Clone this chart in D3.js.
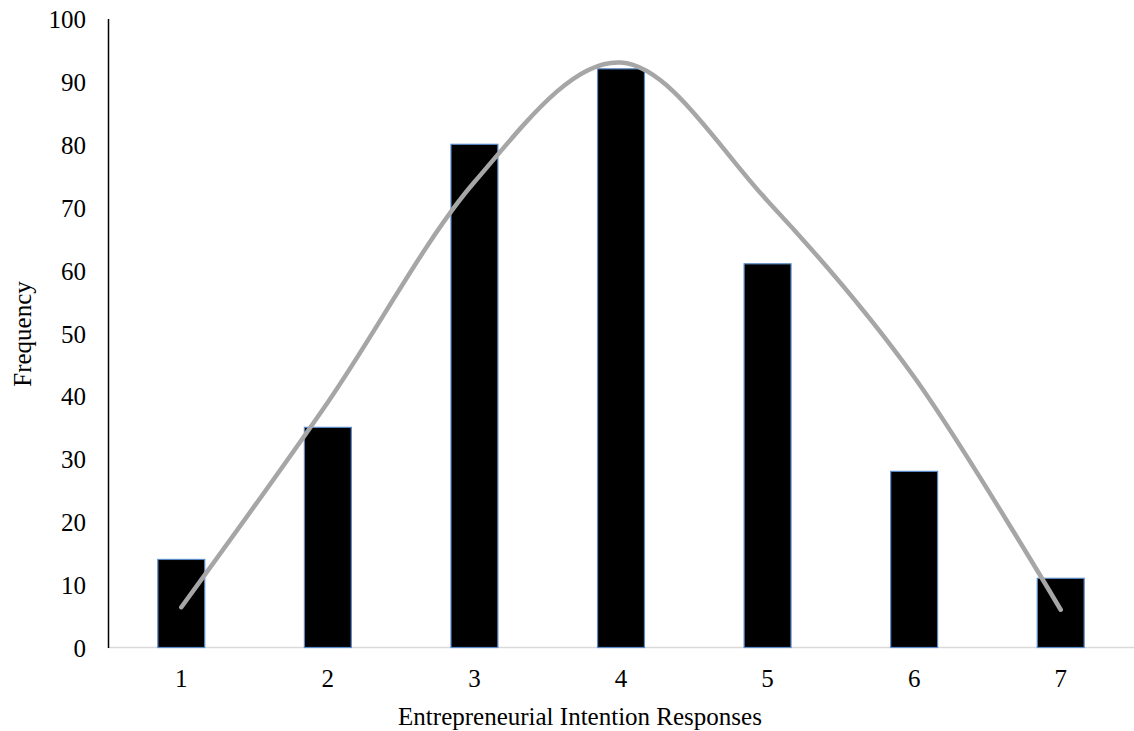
<!DOCTYPE html>
<html>
<head>
<meta charset="utf-8">
<script src="https://cdn.jsdelivr.net/npm/d3@7"></script>
<style>
  html, body { margin: 0; padding: 0; background: #fff; }
  svg text { font-family: "Liberation Serif", "DejaVu Serif", serif; fill: #000; }
</style>
</head>
<body>
<svg id="chart" width="1134" height="731"></svg>
<script>
// Frequency of each response on the 7-point scale
const categories = ["1", "2", "3", "4", "5", "6", "7"];
const frequencies = [14, 35, 80, 92, 61, 28, 11];
// Smoothed distribution curve through the response categories
const curveValues = [6.4, 39, 74, 93, 71, 43, 6];
const yTicks = [0, 10, 20, 30, 40, 50, 60, 70, 80, 90, 100];

const svg = d3.select("#chart");
const margin = { left: 108, right: 0, top: 18.5, bottom: 83.5 };
const W = 1134, H = 731;

const x = d3.scaleBand()
  .domain(categories)
  .range([margin.left, W - margin.right])
  .paddingInner(0.68)
  .paddingOuter(0.34);

const y = d3.scaleLinear()
  .domain([0, 100])
  .range([H - margin.bottom, margin.top]);

// x axis baseline (light grey)
svg.append("line")
  .attr("x1", margin.left).attr("x2", W)
  .attr("y1", y(0)).attr("y2", y(0))
  .attr("stroke", "#d9d9d9").attr("stroke-width", 1.5);

// bars
svg.append("g").selectAll("rect")
  .data(frequencies)
  .join("rect")
  .attr("x", (d, i) => x(categories[i]))
  .attr("width", x.bandwidth())
  .attr("y", d => y(d))
  .attr("height", d => y(0) - y(d))
  .attr("fill", "#000")
  .attr("stroke", "#5b8ac8")
  .attr("stroke-width", 1.2);

// y axis
const yAxis = d3.axisLeft(y).tickValues(yTicks).tickSize(0).tickPadding(22);
const gy = svg.append("g").attr("transform", `translate(${margin.left},0)`).call(yAxis);
gy.select(".domain").attr("stroke", "#000").attr("stroke-width", 1.5);
gy.selectAll("text").attr("font-size", 25).attr("dy", "0.36em");

// x axis labels
const xAxis = d3.axisBottom(x).tickSize(0).tickPadding(22);
const gx = svg.append("g").attr("transform", `translate(0,${y(0)})`).call(xAxis);
gx.select(".domain").remove();
gx.selectAll("text").attr("font-size", 25);

// smoothed curve
const line = d3.line()
  .x((d, i) => x(categories[i]) + x.bandwidth() / 2)
  .y(d => y(d))
  .curve(d3.curveCardinal.tension(0));

svg.append("path")
  .datum(curveValues)
  .attr("d", line)
  .attr("fill", "none")
  .attr("stroke", "#a6a6a6")
  .attr("stroke-width", 4.5)
  .attr("stroke-linecap", "round")
  .attr("stroke-linejoin", "round");

// axis titles
svg.append("text")
  .attr("x", 580).attr("y", 725)
  .attr("text-anchor", "middle")
  .attr("font-size", 25)
  .text("Entrepreneurial Intention Responses");

svg.append("text")
  .attr("transform", "translate(31,334) rotate(-90)")
  .attr("text-anchor", "middle")
  .attr("font-size", 25)
  .text("Frequency");
</script>
</body>
</html>
